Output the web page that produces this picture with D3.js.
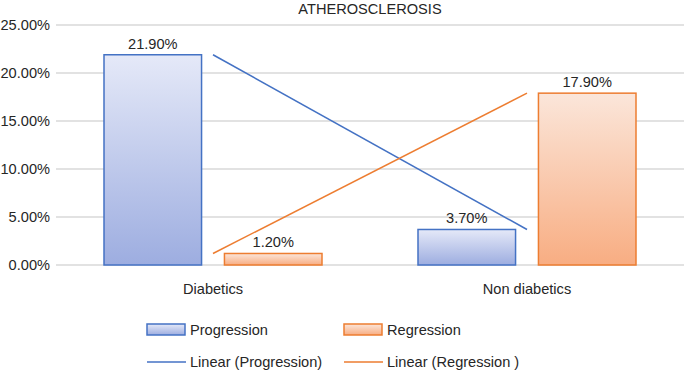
<!DOCTYPE html>
<html>
<head>
<meta charset="utf-8">
<script src="https://cdn.jsdelivr.net/npm/d3@7"></script>
<style>
  body { margin: 0; background: #fff; }
  text { font-family: "Liberation Sans", Arial, sans-serif; fill: #262626; }
</style>
</head>
<body>
<div id="container"></div>
<script>
const categories = ["Diabetics", "Non diabetics"];
const seriesNames = ["Progression", "Regression"];
const progression = [21.9, 3.7];
const regression = [1.2, 17.9];
const yTicks = [0, 5, 10, 15, 20, 25];
const title = "ATHEROSCLEROSIS";

const w = 685, h = 373;
const margin = {top: 25, left: 56, bottom: 108, right: 1};
const graphWidth = w - margin.left - margin.right;
const graphHeight = h - margin.top - margin.bottom;
const fs = "14.6px";

const colors = {
  Progression: {stroke: "#4472c4", top: "#e5e9f8", bottom: "#9dade0"},
  Regression: {stroke: "#ed7d31", top: "#fbe6da", bottom: "#f8ad82"}
};

const svg = d3.select("#container").append("svg").attr("width", w).attr("height", h);

// gradients for bars
const defs = svg.append("defs");
seriesNames.forEach(s => {
  const g = defs.append("linearGradient").attr("id", "grad-" + s)
    .attr("x1", 0).attr("y1", 0).attr("x2", 0).attr("y2", 1);
  g.append("stop").attr("offset", "0%").attr("stop-color", colors[s].top);
  g.append("stop").attr("offset", "100%").attr("stop-color", colors[s].bottom);
});

const graph = svg.append("g").attr("transform", `translate(${margin.left}, ${margin.top})`);

const x0 = d3.scaleBand().domain(categories).range([0, graphWidth]).paddingInner(0).paddingOuter(0);
const x1 = d3.scaleBand().domain(seriesNames).range([48, x0.bandwidth() - 48]).paddingInner(0.19);
const y = d3.scaleLinear().domain([0, 25]).range([graphHeight, 0]);

// gridlines
graph.append("g").selectAll("line")
  .data(yTicks)
  .enter().append("line")
    .attr("x1", 0).attr("x2", graphWidth)
    .attr("y1", d => y(d)).attr("y2", d => y(d))
    .attr("stroke", "#d9d9d9").attr("stroke-width", 1.3);

// y axis labels
const yAxis = d3.axisLeft(y).tickValues(yTicks).tickFormat(d => d.toFixed(2) + "%").tickSize(0).tickPadding(6);
const yAxisGroup = graph.append("g").call(yAxis);
yAxisGroup.select(".domain").remove();
yAxisGroup.selectAll("text").style("font-size", fs).attr("fill", "#262626")
  .style("font-family", "Liberation Sans, Arial, sans-serif");

// x axis labels
const xAxis = d3.axisBottom(x0).tickSize(0).tickPadding(19);
const xAxisGroup = graph.append("g").attr("transform", `translate(0, ${graphHeight})`).call(xAxis);
xAxisGroup.select(".domain").remove();
xAxisGroup.selectAll("text").style("font-size", fs).attr("fill", "#262626")
  .style("font-family", "Liberation Sans, Arial, sans-serif");

// bars
const rows = categories.map((c, i) => ({cat: c, values: [
  {s: "Progression", v: progression[i]},
  {s: "Regression", v: regression[i]}
]}));

const groups = graph.selectAll(".cat").data(rows).enter().append("g")
  .attr("class", "cat")
  .attr("transform", d => `translate(${x0(d.cat)}, 0)`);

groups.selectAll("rect").data(d => d.values).enter().append("rect")
  .attr("x", d => x1(d.s))
  .attr("y", d => y(d.v))
  .attr("width", x1.bandwidth())
  .attr("height", d => graphHeight - y(d.v))
  .attr("fill", d => `url(#grad-${d.s})`)
  .attr("stroke", d => colors[d.s].stroke)
  .attr("stroke-width", 1.5);

groups.selectAll(".lbl").data(d => d.values).enter().append("text")
  .attr("class", "lbl")
  .attr("x", d => x1(d.s) + x1.bandwidth() / 2)
  .attr("y", d => y(d.v) - 6)
  .attr("text-anchor", "middle")
  .style("font-size", fs)
  .text(d => d.v.toFixed(2) + "%");

// linear trendlines through category centres
const line = d3.line().x((d, i) => x0(categories[i]) + x0.bandwidth() / 2).y(d => y(d));
graph.append("path").datum(progression).attr("d", line)
  .attr("fill", "none").attr("stroke", colors.Progression.stroke).attr("stroke-width", 1.5);
graph.append("path").datum(regression).attr("d", line)
  .attr("fill", "none").attr("stroke", colors.Regression.stroke).attr("stroke-width", 1.5);

// title
svg.append("text")
  .attr("x", margin.left + graphWidth / 2)
  .attr("y", 14)
  .attr("text-anchor", "middle")
  .style("font-size", fs)
  .text(title);

// legend
const legend = svg.append("g").attr("id", "legend");
const legX = [147, 344];
seriesNames.forEach((s, i) => {
  legend.append("rect")
    .attr("x", legX[i]).attr("y", 324)
    .attr("width", 38).attr("height", 11)
    .attr("fill", `url(#grad-${s})`)
    .attr("stroke", colors[s].stroke).attr("stroke-width", 1.5);
  legend.append("text")
    .attr("x", legX[i] + 43).attr("y", 335)
    .style("font-size", fs)
    .text(s);
  legend.append("line")
    .attr("x1", legX[i]).attr("x2", legX[i] + 39)
    .attr("y1", 362).attr("y2", 362)
    .attr("stroke", colors[s].stroke).attr("stroke-width", 1.5);
  legend.append("text")
    .attr("x", legX[i] + 43).attr("y", 367)
    .style("font-size", fs)
    .text(s === "Regression" ? "Linear (Regression )" : "Linear (Progression)");
});
</script>
</body>
</html>
